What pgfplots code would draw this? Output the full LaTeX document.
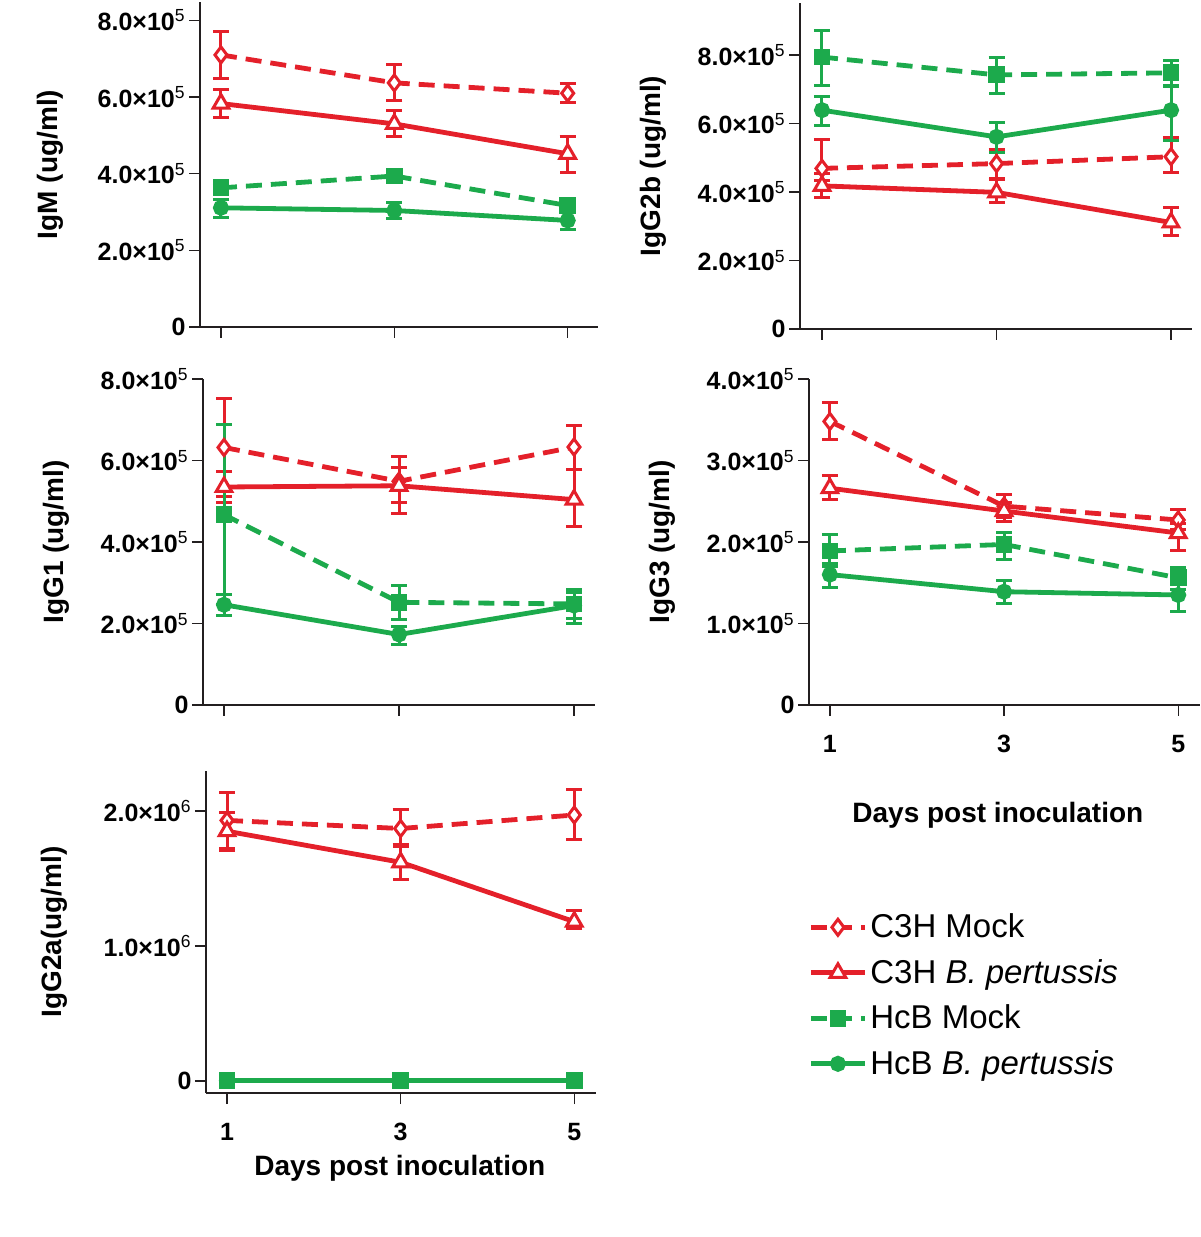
\documentclass[border=0pt]{standalone}
\usepackage{fontspec}
\setmainfont{Liberation Sans}
\usepackage{pgfplots}
\pgfplotsset{compat=1.18}

\definecolor{cred}{RGB}{228,32,42}
\definecolor{cgreen}{RGB}{28,170,76}
\definecolor{axgray}{RGB}{35,31,32}

\newcommand\tickfont{\fontsize{12.5}{14}\selectfont\bfseries}
\newcommand\labfont{\fontsize{14}{16}\selectfont\bfseries}
\newcommand\legfont{\fontsize{16.5}{19}\selectfont}
\newcommand\sci[2]{#1×10\textsuperscript{\mdseries #2}}

\pgfplotsset{
  panel/.style={
    scale only axis, axis lines=left, clip=false,
    axis line style={-, line width=0.7pt, axgray},
    tick align=outside, major tick length=5.5pt,
    tick style={line width=0.7pt, axgray},
    xtick={1,3,5}, xticklabels={,,},
    yticklabel style={font=\tickfont, inner sep=1.5pt},
    xticklabel style={font=\tickfont},
    every axis y label/.style={rotate=90, anchor=center, font=\labfont},
    every axis x label/.style={anchor=center, font=\labfont},
  },
  eb/.style={
    error bars/y dir=both, error bars/y explicit,
    error bars/error bar style={line width=1.5pt, solid},
    error bars/error mark options={rotate=90, mark size=4pt, line width=1.5pt, solid},
  },
  c3hmock/.style={cred, line width=2.4pt, dash pattern=on 8pt off 4.5pt,
    mark=diamond*, mark size=4pt, mark options={solid, fill=white, line width=1.5pt}},
  c3hbp/.style={cred, line width=2.4pt, solid,
    mark=triangle*, mark size=4.5pt, mark options={solid, fill=white, line width=1.5pt}},
  hcbmock/.style={cgreen, line width=2.4pt, dash pattern=on 8pt off 4.5pt,
    mark=square*, mark size=3pt, mark options={solid, fill=cgreen}},
  hcbbp/.style={cgreen, line width=2.4pt, solid,
    mark=*, mark size=2.8pt, mark options={solid, fill=cgreen}},
}

\begin{document}
\begin{tikzpicture}
\useasboundingbox (0,0) rectangle (600pt,618.5pt);

% ---- IgM ----
\begin{axis}[panel, at={(100pt,455pt)}, anchor=south west,
  width=199pt, height=162.5pt,
  xmin=0.758, xmax=5.35, ymin=0, ymax=8.48,
  ytick={0,2,4,6,8},
  yticklabels={0,\sci{2.0}{5},\sci{4.0}{5},\sci{6.0}{5},\sci{8.0}{5}},
  ylabel={IgM (ug/ml)}, ylabel style={at={(axis description cs:-0.377,0.5)}}]
\addplot[c3hmock, eb] coordinates {(1,7.10) += (0,0.60) -= (0,0.62) (3,6.37) += (0,0.47) -= (0,0.47) (5,6.10) += (0,0.25) -= (0,0.25)};
\addplot[c3hbp, eb] coordinates {(1,5.83) += (0,0.36) -= (0,0.37) (3,5.30) += (0,0.35) -= (0,0.34) (5,4.52) += (0,0.45) -= (0,0.48)};
\addplot[hcbmock, eb] coordinates {(1,3.63) += (0,0.06) -= (0,0.06) (3,3.94) += (0,0.10) -= (0,0.10) (5,3.17) += (0,0.13) -= (0,0.13)};
\addplot[hcbbp, eb] coordinates {(1,3.11) += (0,0.21) -= (0,0.24) (3,3.04) += (0,0.20) -= (0,0.21) (5,2.78) += (0,0.26) -= (0,0.24)};
\end{axis}

% ---- IgG2b ----
\begin{axis}[panel, at={(400pt,454pt)}, anchor=south west,
  width=196pt, height=163pt,
  xmin=0.748, xmax=5.24, ymin=0, ymax=9.52,
  ytick={0,2,4,6,8},
  yticklabels={0,\sci{2.0}{5},\sci{4.0}{5},\sci{6.0}{5},\sci{8.0}{5}},
  ylabel={IgG2b (ug/ml)}, ylabel style={at={(axis description cs:-0.375,0.5)}}]
\addplot[c3hmock, eb] coordinates {(1,4.69) += (0,0.84) -= (0,0.15) (3,4.83) += (0,0.41) -= (0,0.43) (5,5.03) += (0,0.56) -= (0,0.46)};
\addplot[c3hbp, eb] coordinates {(1,4.18) += (0,0.17) -= (0,0.34) (3,3.99) += (0,0.38) -= (0,0.29) (5,3.11) += (0,0.44) -= (0,0.38)};
\addplot[hcbmock, eb] coordinates {(1,7.94) += (0,0.78) -= (0,0.82) (3,7.42) += (0,0.50) -= (0,0.55) (5,7.48) += (0,0.36) -= (0,0.39)};
\addplot[hcbbp, eb] coordinates {(1,6.39) += (0,0.41) -= (0,0.45) (3,5.61) += (0,0.43) -= (0,0.46) (5,6.39) += (0,0.71) -= (0,0.88)};
\end{axis}

% ---- IgG1 ----
\begin{axis}[panel, at={(101.5pt,266pt)}, anchor=south west,
  width=196pt, height=163pt,
  xmin=0.76, xmax=5.24, ymin=0, ymax=8,
  ytick={0,2,4,6,8},
  yticklabels={0,\sci{2.0}{5},\sci{4.0}{5},\sci{6.0}{5},\sci{8.0}{5}},
  ylabel={IgG1 (ug/ml)}, ylabel style={at={(axis description cs:-0.375,0.5)}}]
\addplot[c3hmock, eb] coordinates {(1,6.32) += (0,1.21) -= (0,1.20) (3,5.49) += (0,0.61) -= (0,0.53) (5,6.33) += (0,0.53) -= (0,0.54)};
\addplot[c3hbp, eb] coordinates {(1,5.35) += (0,0.38) -= (0,0.39) (3,5.38) += (0,0.45) -= (0,0.67) (5,5.04) += (0,0.75) -= (0,0.66)};
\addplot[hcbmock, eb] coordinates {(1,4.67) += (0,2.21) -= (0,2.20) (3,2.52) += (0,0.42) -= (0,0.43) (5,2.48) += (0,0.35) -= (0,0.35)};
\addplot[hcbbp, eb] coordinates {(1,2.46) += (0,0.25) -= (0,0.27) (3,1.73) += (0,0.20) -= (0,0.25) (5,2.44) += (0,0.31) -= (0,0.43)};
\end{axis}

% ---- IgG3 ----
\begin{axis}[panel, at={(404.5pt,266pt)}, anchor=south west,
  width=195.5pt, height=163pt,
  xmin=0.76, xmax=5.25, ymin=0, ymax=4,
  xticklabels={1,3,5}, xticklabel style={yshift=-6pt},
  ytick={0,1,2,3,4},
  yticklabels={0,\sci{1.0}{5},\sci{2.0}{5},\sci{3.0}{5},\sci{4.0}{5}},
  ylabel={IgG3 (ug/ml)}, ylabel style={at={(axis description cs:-0.376,0.5)}},
  xlabel={Days post inoculation}, xlabel style={at={(axis description cs:0.483,-0.337)}}]
\addplot[c3hmock, eb] coordinates {(1,3.48) += (0,0.23) -= (0,0.22) (3,2.44) += (0,0.14) -= (0,0.14) (5,2.27) += (0,0.13) -= (0,0.12)};
\addplot[c3hbp, eb] coordinates {(1,2.66) += (0,0.15) -= (0,0.14) (3,2.38) += (0,0.10) -= (0,0.13) (5,2.11) += (0,0.12) -= (0,0.22)};
\addplot[hcbmock, eb] coordinates {(1,1.89) += (0,0.20) -= (0,0.19) (3,1.97) += (0,0.15) -= (0,0.19) (5,1.56) += (0,0.13) -= (0,0.14)};
\addplot[hcbbp, eb] coordinates {(1,1.60) += (0,0.14) -= (0,0.16) (3,1.39) += (0,0.14) -= (0,0.15) (5,1.35) += (0,0.17) -= (0,0.20)};
\end{axis}

% ---- IgG2a (with legend) ----
\begin{axis}[panel, at={(103pt,72pt)}, anchor=south west,
  width=195pt, height=161pt,
  xmin=0.758, xmax=5.25, ymin=-0.089, ymax=2.296,
  xticklabels={1,3,5}, xticklabel style={yshift=-6pt},
  ytick={0,1,2},
  yticklabels={0,\sci{1.0}{6},\sci{2.0}{6}},
  ylabel={IgG2a(ug/ml)}, ylabel style={at={(axis description cs:-0.39,0.5)}},
  xlabel={Days post inoculation}, xlabel style={at={(axis description cs:0.497,-0.233)}},
  legend cell align=left,
  legend style={at={(axis description cs:1.544,0.567)}, anchor=north west,
    draw=none, fill=none, font=\legfont, inner sep=0pt, row sep=6.3pt,
    nodes={inner sep=1.5pt}},
  legend image code/.code={
    \draw[#1, mark repeat=2, mark phase=2] plot coordinates {(0pt,0pt) (13.5pt,0pt) (27pt,0pt)};
  }]
\addplot[c3hmock, eb] coordinates {(1,1.93) += (0,0.21) -= (0,0.21) (3,1.87) += (0,0.14) -= (0,0.13) (5,1.97) += (0,0.19) -= (0,0.18)};
\addlegendentry{C3H Mock}
\addplot[c3hbp, eb] coordinates {(1,1.85) += (0,0.14) -= (0,0.14) (3,1.62) += (0,0.13) -= (0,0.13) (5,1.18) += (0,0.08) -= (0,0.05)};
\addlegendentry{C3H \textit{B. pertussis}}
\addplot[hcbmock] coordinates {(1,0.003) (3,0.003) (5,0.003)};
\addlegendentry{HcB Mock}
\addplot[hcbbp] coordinates {(1,0.003) (3,0.003) (5,0.003)};
\addlegendentry{HcB \textit{B. pertussis}}
\end{axis}
\end{tikzpicture}
\end{document}
